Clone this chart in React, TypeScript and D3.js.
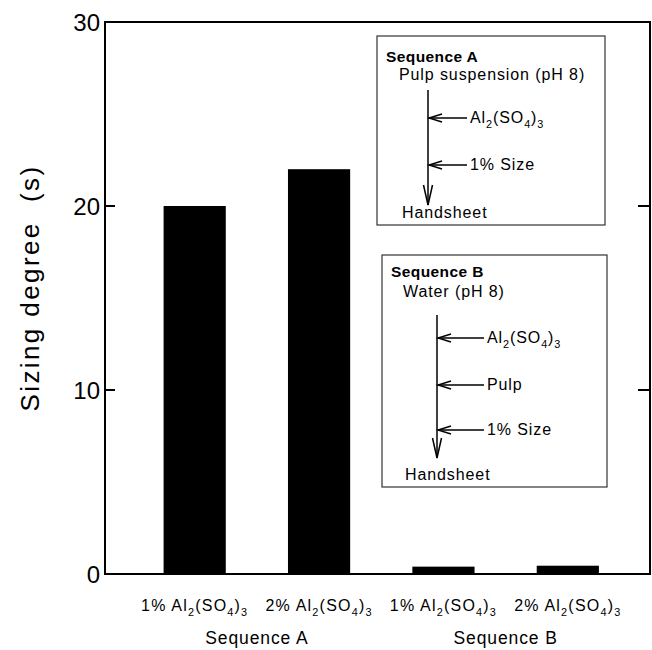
import React from "react";
import * as d3 from "d3";

// Sizing degree (s) of handsheets for two addition sequences
const dosages = ["1%", "2%", "1%", "2%"];
const sequences = ["Sequence A", "Sequence A", "Sequence B", "Sequence B"];
const sizingDegree = [20.0, 22.0, 0.4, 0.45];
const groupLabels = ["Sequence A", "Sequence B"];
const yTicks = [0, 10, 20, 30];

// Flow diagrams for the two sequences
const flowA = {
  title: "Sequence A",
  start: "Pulp suspension (pH 8)",
  steps: ["alum", "1% Size"],
  end: "Handsheet",
};
const flowB = {
  title: "Sequence B",
  start: "Water (pH 8)",
  steps: ["alum", "Pulp", "1% Size"],
  end: "Handsheet",
};

const W = 652;
const H = 650;
const FONT = "'Liberation Sans', Arial, Helvetica, sans-serif";

const margin = { left: 105, top: 22, right: 650, bottom: 574 };

function Alum({ size = 15 }: { size?: number }) {
  const sub = size * 0.68;
  const d = size * 0.3;
  return (
    <>
      <tspan>Al</tspan>
      <tspan dy={d} fontSize={sub}>2</tspan>
      <tspan dy={-d}>(SO</tspan>
      <tspan dy={d} fontSize={sub}>4</tspan>
      <tspan dy={-d}>)</tspan>
      <tspan dy={d} fontSize={sub}>3</tspan>
    </>
  );
}

type FlowProps = {
  flow: { title: string; start: string; steps: string[]; end: string };
  x: number;
  y: number;
  w: number;
  h: number;
  titleY: number;
  startX: number;
  startY: number;
  lineX: number;
  lineTop: number;
  lineBottom: number;
  stepYs: number[];
  labelX: number;
  endX: number;
  endY: number;
};

function Flow(p: FlowProps) {
  const fs = 16;
  const ls = 0.9;
  return (
    <g fontFamily={FONT} fill="#000">
      <rect x={p.x} y={p.y} width={p.w} height={p.h} fill="#fff" stroke="#333" strokeWidth={1.2} />
      <text x={p.x + 9} y={p.y + p.titleY} fontWeight="bold" fontSize={15.5} letterSpacing={0.4}>
        {p.flow.title}
      </text>
      <text x={p.x + p.startX} y={p.y + p.startY} fontSize={fs} letterSpacing={ls}>
        {p.flow.start}
      </text>
      <line
        x1={p.x + p.lineX}
        x2={p.x + p.lineX}
        y1={p.y + p.lineTop}
        y2={p.y + p.lineBottom}
        stroke="#000"
        strokeWidth={1.5}
      />
      <path
        d={`M${p.x + p.lineX - 4.5},${p.y + p.lineBottom - 20} L${p.x + p.lineX},${p.y + p.lineBottom} L${p.x + p.lineX + 4.5},${p.y + p.lineBottom - 20}`}
        fill="none"
        stroke="#000"
        strokeWidth={1.5}
      />
      {p.flow.steps.map((s, i) => {
        const ay = p.y + p.stepYs[i];
        const tip = p.x + p.lineX + 1;
        return (
          <g key={i}>
            <line x1={tip} x2={p.x + p.labelX - 3} y1={ay} y2={ay} stroke="#000" strokeWidth={1.5} />
            <path
              d={`M${tip + 13},${ay - 4} L${tip},${ay} L${tip + 13},${ay + 4}`}
              fill="none"
              stroke="#000"
              strokeWidth={1.4}
            />
            <text x={p.x + p.labelX} y={ay + 5} fontSize={fs} letterSpacing={ls}>
              {s === "alum" ? <Alum size={fs} /> : s}
            </text>
          </g>
        );
      })}
      <text x={p.x + p.endX} y={p.y + p.endY} fontSize={fs} letterSpacing={ls}>
        {p.flow.end}
      </text>
    </g>
  );
}

export default function App() {
  const ids = dosages.map((d, i) => `${d}|${sequences[i]}`);
  const x = d3
    .scaleBand<string>()
    .domain(ids)
    .range([132.5, 630])
    .paddingInner(0.5)
    .paddingOuter(0.25);
  const y = d3.scaleLinear().domain([0, 30]).range([margin.bottom, margin.top]);

  const groupCenter = (g: string) => {
    const xs = ids.filter((_, i) => sequences[i] === g).map((id) => (x(id) ?? 0) + x.bandwidth() / 2);
    return d3.mean(xs) ?? 0;
  };

  return (
    <svg width={W} height={H} style={{ position: "absolute", left: 0, top: 0 }} fontFamily={FONT}>
      <rect x={0} y={0} width={W} height={H} fill="#fff" />

      {/* bars */}
      {ids.map((id, i) => (
        <rect
          key={id}
          x={x(id)}
          y={y(sizingDegree[i])}
          width={x.bandwidth()}
          height={y(0) - y(sizingDegree[i])}
          fill="#000"
        />
      ))}

      {/* frame */}
      <rect
        x={margin.left}
        y={margin.top}
        width={margin.right - margin.left}
        height={margin.bottom - margin.top}
        fill="none"
        stroke="#000"
        strokeWidth={2}
      />

      {/* y ticks on both sides */}
      {yTicks.map((t) => (
        <g key={t}>
          <line x1={margin.left} x2={margin.left + 10} y1={y(t)} y2={y(t)} stroke="#000" strokeWidth={2} />
          <line x1={margin.right - 12} x2={margin.right} y1={y(t)} y2={y(t)} stroke="#000" strokeWidth={2} />
          <text x={100} y={y(t)} dy="0.36em" textAnchor="end" fontSize={24}>
            {t}
          </text>
        </g>
      ))}

      {/* y axis title */}
      <text
        transform={`translate(39, 288) rotate(-90)`}
        textAnchor="middle"
        fontSize={26}
        letterSpacing={2.4}
      >
        Sizing degree{"\u00a0\u00a0"}(s)
      </text>

      {/* category labels */}
      {ids.map((id, i) => (
        <text
          key={id}
          x={(x(id) ?? 0) + x.bandwidth() / 2}
          y={611}
          textAnchor="middle"
          fontSize={16}
          letterSpacing={1.2}
        >
          <tspan>{dosages[i]} </tspan>
          <Alum size={16} />
        </text>
      ))}

      {groupLabels.map((g) => (
        <text key={g} x={groupCenter(g)} y={644} textAnchor="middle" fontSize={17.5} letterSpacing={0.9}>
          {g}
        </text>
      ))}

      <Flow
        flow={flowA}
        x={377}
        y={36}
        w={228}
        h={189}
        titleY={26}
        startX={22}
        startY={44}
        lineX={51}
        lineTop={54}
        lineBottom={169}
        stepYs={[82, 129]}
        labelX={93}
        endX={25}
        endY={182}
      />
      <Flow
        flow={flowB}
        x={382}
        y={255}
        w={225}
        h={232}
        titleY={22}
        startX={21}
        startY={42}
        lineX={55}
        lineTop={60}
        lineBottom={203}
        stepYs={[83, 130, 175]}
        labelX={105}
        endX={23}
        endY={225}
      />
    </svg>
  );
}
